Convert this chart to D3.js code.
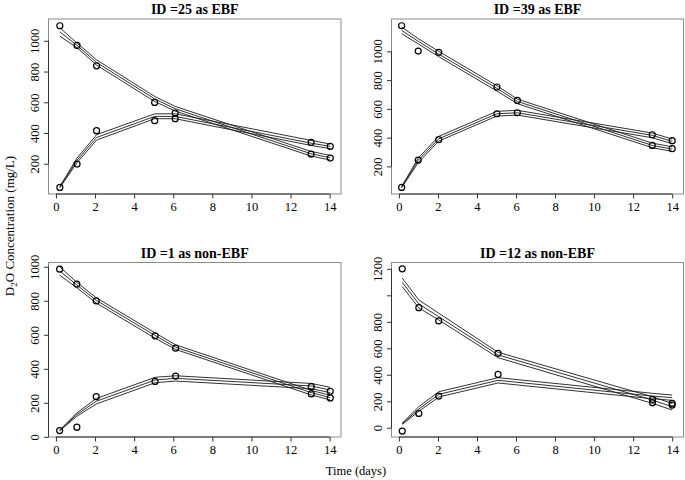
<!DOCTYPE html>
<html>
<head>
<meta charset="utf-8">
<script src="https://cdn.jsdelivr.net/npm/d3@7"></script>
<style>
  body { margin: 0; background: #fff; }
  svg { display: block; }
  text { font-family: "Liberation Serif", "DejaVu Serif", serif; fill: #000; }
</style>
</head>
<body>
<svg id="chart" width="685" height="480"></svg>
<script>
// ---------- DATA ----------
const titles = ["ID =25 as EBF", "ID =39 as EBF", "ID =1 as non-EBF", "ID =12 as non-EBF"];
const xTicks = [0, 2, 4, 6, 8, 10, 12, 14];

// ID 25
const time25 = [0.2, 1.08, 2.08, 5.05, 6.1, 13.05, 14.03];
const mother25 = [1098, 970, 837, 599, 530, 263, 237];
const baby25 = [46, 198, 415, 480, 493, 339, 313];
const motherHi25 = [1085, 985, 876, 638, 573, 280, 254];
const motherMid25 = [1058, 970, 859, 622, 558, 265, 239];
const motherLo25 = [1030, 955, 842, 605, 543, 250, 224];
const babyHi25 = [52, 237, 389, 525, 525, 352, 328];
const babyMid25 = [48, 222, 371, 508, 508, 334, 313];
const babyLo25 = [44, 207, 354, 493, 493, 319, 298];
const yTicks25 = [200, 400, 600, 800, 1000];

// ID 39
const time39 = [0.14, 0.99, 2.04, 5.02, 6.07, 12.98, 14.0];
const mother39 = [1178, 1002, 993, 752, 659, 346, 323];
const baby39 = [54, 244, 386, 566, 573, 420, 379];
const motherHi39 = [1169, 1088, 1000, 761, 668, 362, 336];
const motherMid39 = [1146, 1070, 981, 743, 652, 346, 320];
const motherLo39 = [1123, 1052, 963, 724, 636, 330, 304];
const babyHi39 = [60, 258, 409, 583, 590, 432, 390];
const babyMid39 = [56, 242, 392, 566, 573, 416, 374];
const babyLo39 = [52, 226, 376, 550, 557, 399, 358];
const yTicks39 = [200, 400, 600, 800, 1000];

// ID 1
const time1 = [0.19, 1.07, 2.06, 5.07, 6.12, 13.06, 14.03];
const mother1 = [986, 898, 799, 594, 521, 252, 229];
const baby1 = [37, 57, 236, 326, 357, 295, 268];
const motherHi1 = [1000, 908, 818, 611, 541, 273, 244];
const motherMid1 = [975, 893, 803, 596, 527, 260, 230];
const motherLo1 = [951, 877, 787, 580, 514, 246, 217];
const babyHi1 = [39, 141, 225, 350, 359, 314, 291];
const babyMid1 = [37, 131, 209, 334, 344, 299, 275];
const babyLo1 = [35, 121, 193, 318, 328, 283, 260];
const yTicks1 = [0, 200, 400, 600, 800, 1000];

// ID 12
const time12 = [0.17, 1.02, 2.04, 5.08, 12.99, 14.0];
const mother12 = [1200, 907, 807, 562, 189, 171];
const baby12 = [-25, 108, 239, 403, 214, 184];
const motherHi12 = [1130, 965, 865, 570, 234, 184];
const motherMid12 = [1098, 935, 839, 550, 209, 159];
const motherLo12 = [1066, 905, 814, 529, 184, 134];
const babyHi12 = [35, 159, 272, 378, 260, 247];
const babyMid12 = [30, 141, 252, 358, 239, 227];
const babyLo12 = [25, 124, 232, 338, 219, 207];
const yTicks12 = [0, 200, 400, 600, 800, 1000, 1200];
const yLabels12 = ["0", "200", "400", "600", "800", "", "1200"];

// ---------- PANELS ----------
const panels = [
  { title: titles[0], t: time25, obs: [mother25, baby25],
    fits: [motherHi25, motherMid25, motherLo25, babyHi25, babyMid25, babyLo25],
    yDom: [3, 1142], yTicks: yTicks25, yLabels: yTicks25.map(String),
    box: { x0: 48.5, x1: 341, y0: 19, y1: 194 } },
  { title: titles[1], t: time39, obs: [mother39, baby39],
    fits: [motherHi39, motherMid39, motherLo39, babyHi39, babyMid39, babyLo39],
    yDom: [8, 1225], yTicks: yTicks39, yLabels: yTicks39.map(String),
    box: { x0: 391.5, x1: 683.5, y0: 19, y1: 194 } },
  { title: titles[2], t: time1, obs: [mother1, baby1],
    fits: [motherHi1, motherMid1, motherLo1, babyHi1, babyMid1, babyLo1],
    yDom: [-1, 1025], yTicks: yTicks1, yLabels: yTicks1.map(String),
    box: { x0: 48.5, x1: 341, y0: 262.5, y1: 437 } },
  { title: titles[3], t: time12, obs: [mother12, baby12],
    fits: [motherHi12, motherMid12, motherLo12, babyHi12, babyMid12, babyLo12],
    yDom: [-70, 1248], yTicks: yTicks12, yLabels: yLabels12,
    box: { x0: 391.5, x1: 683.5, y0: 262.5, y1: 437 } }
];

const svg = d3.select("#chart");
const FS = 12.5;

panels.forEach(p => {
  const b = p.box;
  const x = d3.scaleLinear().domain([-0.38, 14.58]).range([b.x0, b.x1]);
  const y = d3.scaleLinear().domain(p.yDom).range([b.y1, b.y0]);
  const g = svg.append("g");

  // box
  g.append("rect").attr("x", b.x0).attr("y", b.y0)
    .attr("width", b.x1 - b.x0).attr("height", b.y1 - b.y0)
    .attr("fill", "none").attr("stroke", "#8a8a8a").attr("stroke-width", 1);

  // x axis
  const xa = g.append("g").attr("transform", `translate(0,${b.y1})`)
    .call(d3.axisBottom(x).tickValues(xTicks).tickSize(4.5).tickPadding(4).tickSizeOuter(0));
  xa.select(".domain").attr("d", `M${x(0)},0H${x(14)}`).attr("stroke", "#333");
  xa.selectAll(".tick line").attr("stroke", "#333");
  xa.selectAll(".tick text").attr("font-size", FS).attr("font-family", "Liberation Serif");

  // y axis
  const ya = g.append("g").attr("transform", `translate(${b.x0},0)`)
    .call(d3.axisLeft(y).tickValues(p.yTicks).tickSize(4.5).tickSizeOuter(0)
      .tickFormat((d, i) => p.yLabels[i]));
  ya.select(".domain")
    .attr("d", `M0,${y(p.yTicks[0])}V${y(p.yTicks[p.yTicks.length - 1])}`)
    .attr("stroke", "#333");
  ya.selectAll(".tick line").attr("stroke", "#333");
  ya.selectAll(".tick text")
    .attr("font-size", FS).attr("font-family", "Liberation Serif")
    .attr("x", null).attr("dy", null)
    .attr("text-anchor", "middle")
    .attr("transform", "translate(-10,0) rotate(-90)");

  // fitted lines
  const line = d3.line().x((d, i) => x(p.t[i])).y(d => y(d));
  p.fits.forEach(f => {
    g.append("path").datum(f).attr("d", line)
      .attr("fill", "none").attr("stroke", "#1a1a1a").attr("stroke-width", 0.9);
  });

  // observed points
  p.obs.forEach(o => {
    g.selectAll(null).data(o).enter().append("circle")
      .attr("cx", (d, i) => x(p.t[i])).attr("cy", d => y(d)).attr("r", 3)
      .attr("fill", "none").attr("stroke", "#000").attr("stroke-width", 1.2);
  });

  // title
  g.append("text").attr("x", (b.x0 + b.x1) / 2).attr("y", b.y0 - 5)
    .attr("text-anchor", "middle").attr("font-weight", "bold").attr("font-size", 14)
    .text(p.title);
});

// outer axis titles
svg.append("text").attr("x", 356).attr("y", 475).attr("text-anchor", "middle")
  .attr("font-size", 12.5).text("Time (days)");

const yl = svg.append("text").attr("transform", "translate(14,226) rotate(-90)")
  .attr("text-anchor", "middle").attr("font-size", 13);
yl.append("tspan").text("D");
yl.append("tspan").attr("font-size", 9).attr("dy", 3).text("2");
yl.append("tspan").attr("dy", -3).text("O Concentration (mg/L)");
</script>
</body>
</html>
